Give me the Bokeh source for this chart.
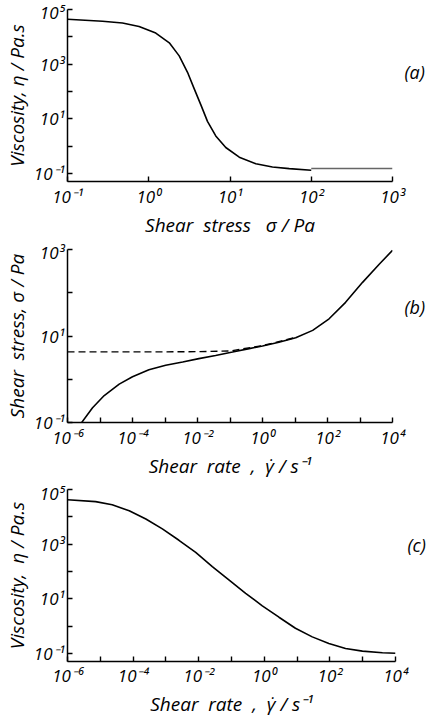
from bokeh.plotting import figure
from bokeh.layouts import column
from bokeh.models import FixedTicker, CustomJSTickFormatter, Range1d, LogAxis
from bokeh.embed import file_html
from bokeh.resources import INLINE

# ---------------- data ----------------
# (a) viscosity vs shear stress
sigma_a = [0.1, 0.27, 0.475, 0.76, 1.22, 1.79, 2.37, 3.0, 3.62, 4.38, 5.28,
           6.68, 8.87, 13.0, 20.8, 33.3, 53.6, 100]
eta_a = [4.4e4, 3.7e4, 3.2e4, 2.4e4, 1.37e4, 6.0e3, 2.0e3, 500, 126, 32, 8.0,
         2.33, 0.88, 0.39, 0.224, 0.17, 0.148, 0.13]
sigma_a_tail = [100, 1000]
eta_a_tail = [0.15, 0.15]

# (b) shear stress vs shear rate
rate_b = [2.6e-6, 5.9e-6, 1.35e-5, 3.9e-5, 1e-4, 3.2e-4, 1.05e-3, 3.5e-3, 1.1e-2,
          3.6e-2, 0.12, 0.39, 1.0, 3.2, 10.5, 35, 112, 360, 1200, 3900, 1e4]
sigma_b = [0.095, 0.22, 0.42, 0.77, 1.14, 1.65, 2.1, 2.5, 3.0, 3.55, 4.25, 5.1,
           5.9, 7.2, 9.1, 13.5, 25, 60, 174, 457, 955]
rate_b_dash = [1e-6, 1e-3, 1e-2, 1e-1, 1.0, 10.0]
sigma_b_dash = [4.3, 4.3, 4.35, 4.5, 6.0, 9.2]

# (c) viscosity vs shear rate
rate_c = [1e-6, 7.2e-6, 2.3e-5, 7.6e-5, 2.45e-4, 7.8e-4, 2.5e-3, 8.1e-3, 2.6e-2,
          8.5e-2, 0.27, 0.87, 2.8, 8.9, 29, 93, 300, 980, 4000, 1e4]
eta_c = [4.2e4, 3.6e4, 2.75e4, 1.66e4, 8.3e3, 3.6e3, 1.38e3, 500, 151, 48, 15.8,
         5.5, 2.1, 0.83, 0.40, 0.23, 0.15, 0.12, 0.105, 0.1]

# ticks
ticks_stress_a = [0.1, 1, 10, 100, 1000]
ticks_visc = [1e-1, 1, 10, 100, 1e3, 1e4, 1e5]
ticks_stress_b = [1e-1, 1, 10, 100, 1e3]
ticks_rate = [1e-6, 1e-5, 1e-4, 1e-3, 1e-2, 1e-1, 1, 10, 100, 1e3, 1e4]
lab_stress_a = [-1, 0, 1, 2, 3]
lab_visc = [-1, 1, 3, 5]
lab_stress_b = [-1, 1, 3]
lab_rate = [-6, -4, -2, 0, 2, 4]

# panel tags and the y value at which each sits
tags = ["(a)", "(b)", "(c)"]
tag_y = [500, 46, 940]

FONT = "Open Sans"
SP = "\u00a0"

JS = """
const e = Math.round(Math.log10(tick));
if (labelled.indexOf(e) < 0) { return ""; }
const sup = {"-": "\u207b", "0": "\u2070", "1": "\u00b9", "2": "\u00b2", "3": "\u00b3",
             "4": "\u2074", "5": "\u2075", "6": "\u2076", "7": "\u2077", "8": "\u2078", "9": "\u2079"};
return "10" + String(e).split("").map(c => sup[c]).join("");
"""


def style_axis(ax, ticks, labelled, label):
    ax.ticker = FixedTicker(ticks=ticks)
    ax.formatter = CustomJSTickFormatter(code=JS, args=dict(labelled=labelled))
    ax.axis_label = label
    ax.axis_line_width = 1.5
    ax.axis_line_color = "black"
    ax.major_tick_in = 5
    ax.major_tick_out = 0
    ax.major_tick_line_width = 1.4
    ax.major_tick_line_color = "black"
    ax.minor_tick_line_color = None
    ax.major_label_text_font = FONT
    ax.major_label_text_font_style = "italic"
    ax.major_label_text_font_size = "17px"
    ax.major_label_text_color = "black"
    ax.major_label_standoff = 3
    ax.axis_label_text_font = FONT
    ax.axis_label_text_font_style = "italic"
    ax.axis_label_text_font_size = "19px"
    ax.axis_label_text_color = "black"
    ax.axis_label_standoff = 1


def add_tag(p, text, y):
    ax = LogAxis(ticker=FixedTicker(ticks=[y]),
                 formatter=CustomJSTickFormatter(code="return tag;", args=dict(tag=text)))
    ax.axis_line_color = None
    ax.major_tick_line_color = None
    ax.minor_tick_line_color = None
    ax.major_label_standoff = 6
    ax.major_label_text_font = FONT
    ax.major_label_text_font_style = "italic"
    ax.major_label_text_font_size = "18px"
    ax.major_label_text_color = "black"
    p.add_layout(ax, "right")


def make_fig(xr, yr, fw, fh, mb_top, mb_bottom, mb_right):
    p = figure(x_axis_type="log", y_axis_type="log",
               x_range=Range1d(*xr), y_range=Range1d(*yr),
               frame_width=fw, frame_height=fh,
               min_border_left=57, min_border_right=mb_right,
               min_border_top=mb_top, min_border_bottom=mb_bottom,
               output_backend="svg", toolbar_location=None)
    p.outline_line_color = None
    p.grid.visible = False
    p.background_fill_color = "white"
    p.border_fill_color = "white"
    return p


# ---------------- (a) ----------------
pa = make_fig((0.1, 1000), (10 ** -1.3, 1e5), 325, 172, 9, 54, 32)
pa.line(sigma_a, eta_a, line_color="black", line_width=1.6)
pa.line(sigma_a_tail, eta_a_tail, line_color="#666666", line_width=1.4)
style_axis(pa.xaxis[0], ticks_stress_a, lab_stress_a,
           "Shear" + SP + " stress" + SP + SP + " \u03c3 / Pa")
style_axis(pa.yaxis[0], ticks_visc, lab_visc, "Viscosity, \u03b7 / Pa.s")
add_tag(pa, tags[0], tag_y[0])

# ---------------- (b) ----------------
pb = make_fig((1e-6, 1e4), (0.1, 1000), 325, 173, 9, 55, 32)
pb.line(rate_b, sigma_b, line_color="black", line_width=1.6)
pb.line(rate_b_dash, sigma_b_dash, line_color="black", line_width=1.4, line_dash="7 4")
style_axis(pb.xaxis[0], ticks_rate, lab_rate,
           "Shear" + SP + " rate" + SP + " , " + SP + "\u03b3\u0307 / s\u207b\u00b9")
style_axis(pb.yaxis[0], ticks_stress_b, lab_stress_b, "Shear" + SP + " stress, \u03c3 / Pa")
add_tag(pb, tags[1], tag_y[1])

# ---------------- (c) ----------------
pc = make_fig((1e-6, 1e4), (10 ** -1.3, 1e5), 328, 172, 8, 50, 29)
pc.line(rate_c, eta_c, line_color="black", line_width=1.6)
style_axis(pc.xaxis[0], ticks_rate, lab_rate,
           "Shear" + SP + " rate" + SP + " , " + SP + "\u03b3\u0307 / s\u207b\u00b9")
style_axis(pc.yaxis[0], ticks_visc, lab_visc, "Viscosity," + SP + " \u03b7 / Pa.s")
pc.xaxis[0].major_label_standoff = 2
add_tag(pc, tags[2], tag_y[2])

layout = column(pa, pb, pc, spacing=0)
open("out.html", "w").write(file_html(layout, INLINE))
